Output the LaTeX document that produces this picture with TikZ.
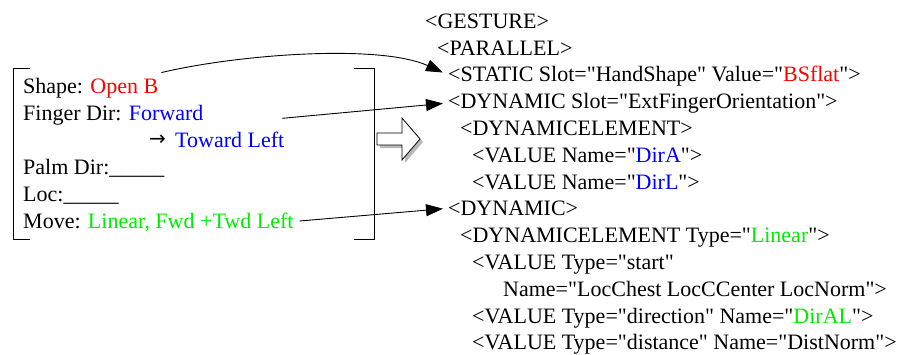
\documentclass[tikz,border=0pt]{standalone}
\usepackage{fontspec}
% a family without TeX ligatures keeps the straight double quotes
\newfontfamily\xmlfont{Liberation Serif}
\newfontfamily\symfont{DejaVu Sans}
\usetikzlibrary{arrows.meta}
\definecolor{kwred}{RGB}{255,0,0}
\definecolor{kwblue}{RGB}{0,0,255}
\definecolor{kwgreen}{RGB}{0,235,0}
\begin{document}
\begin{tikzpicture}[x=1pt,y=-1pt,
  txt/.style={anchor=base west, inner sep=0pt, font=\xmlfont\fontsize{22}{26}\selectfont},
  conn/.style={line width=0.9pt, -{Triangle[length=17pt,width=12pt]}},
  bracket/.style={line width=1pt},
  blockarrow/.style={draw=black, line width=0.8pt, fill=white, line join=miter}]
\useasboundingbox (0,0) rectangle (914,354);

% XML description of the gesture
\node[txt] (gesture)  at (425,28.3)  {<GESTURE>};
\node[txt] (parallel) at (437,55.1)  {<PARALLEL>};
\node[txt] (static)   at (448,81.9)  {<STATIC Slot="HandShape" Value="\textcolor{kwred}{BSflat}">};
\node[txt] (dyn1)     at (448,108.7) {<DYNAMIC Slot="ExtFingerOrientation">};
\node[txt] (del1)     at (460,135.5) {<DYNAMICELEMENT>};
\node[txt] (valA)     at (472,162.3) {<VALUE Name="\textcolor{kwblue}{DirA}">};
\node[txt] (valL)     at (472,189.1) {<VALUE Name="\textcolor{kwblue}{DirL}">};
\node[txt] (dyn2)     at (448,215.9) {<DYNAMIC>};
\node[txt] (del2)     at (460,242.7) {<DYNAMICELEMENT Type="\textcolor{kwgreen}{Linear}">};
\node[txt] (valstart) at (472,269.5) {<VALUE Type="start"};
\node[txt] (valname)  at (503,296.3) {Name="LocChest LocCCenter LocNorm">};
\node[txt] (valdir)   at (472,323.1) {<VALUE Type="direction" Name="\textcolor{kwgreen}{DirAL}">};
\node[txt] (valdist)  at (472,349.2) {<VALUE Type="distance" Name="DistNorm">};

% form with the sign parameters
\node[txt] (shape)  at (23,93)  {Shape: \textcolor{kwred}{Open B}};
\node[txt] (finger) at (23,120) {Finger Dir: \textcolor{kwblue}{Forward}};
\node[txt, font=\symfont\fontsize{20}{24}\selectfont] (tarrow) at (149,145) {→};
\node[txt] (toward) at (175,147) {\textcolor{kwblue}{Toward Left}};
\node[txt] (palm)   at (23,174) {Palm Dir:\_\_\_\_\_};
\node[txt] (loc)    at (23,201) {Loc:\_\_\_\_\_};
\node[txt] (move)   at (23,228) {Move: \textcolor{kwgreen}{Linear, Fwd +Twd Left}};

% square brackets round the form
\draw[bracket] (30,68) -- (13,68) -- (13,239) -- (30,239);
\draw[bracket] (354,68) -- (374,68) -- (374,239) -- (354,239);

% hollow block arrow with its shadow
\fill[gray!55] (380,136) -- (405,136) -- (405,121) -- (423,142) -- (405,163) -- (405,148) -- (380,148) -- cycle;
\draw[blockarrow] (377,133) -- (402,133) -- (402,118) -- (420,139) -- (402,160) -- (402,145) -- (377,145) -- cycle;

% connectors from the form to the XML elements
\draw[conn] ([shift={(3,-5)}]shape.north east) .. controls (240,54) and (380,44) .. ([shift={(-5,-4)}]static.west);
\draw[conn] ([shift={(-2,-13)}]toward.north east) -- ([xshift=-5pt]dyn1.west);
\draw[conn] ([shift={(6,-7)}]move.base east) -- ([xshift=-5pt]dyn2.west);
\end{tikzpicture}
\end{document}
